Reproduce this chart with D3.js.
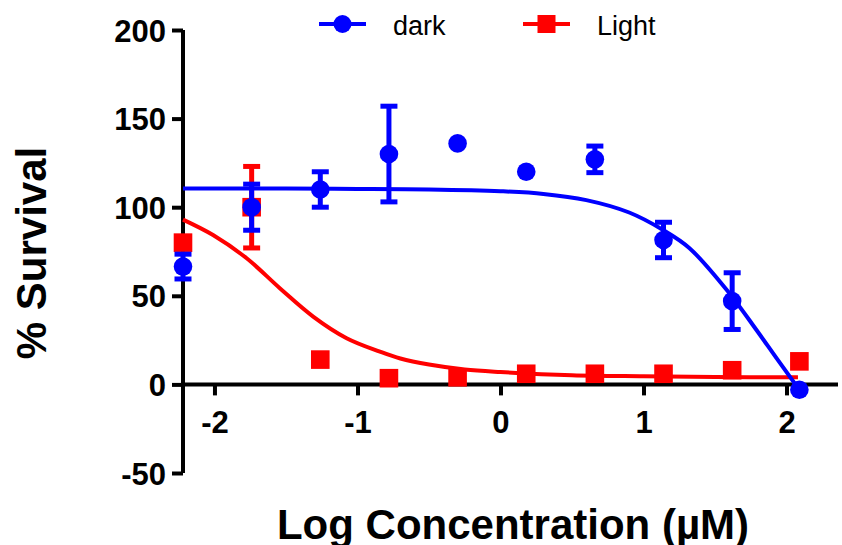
<!DOCTYPE html>
<html>
<head>
<meta charset="utf-8">
<script src="https://cdn.jsdelivr.net/npm/d3@7"></script>
<style>
  body { margin: 0; background: #fff; }
  text { font-family: "Liberation Sans", Arial, sans-serif; }
</style>
</head>
<body>
<svg class="chart"></svg>
<script>
// DATA /////////////////////////////////////////
const logConc = [-2.22, -1.74, -1.26, -0.78, -0.30, 0.18, 0.66, 1.14, 1.62, 2.09];

const darkMean = [66.5, 100, 110, 130, 136, 120, 127, 81.5, 47, -3];
const darkErr = [7, 13, 10, 27, 0, 0, 7.5, 10, 16, 0];

const lightMean = [80, 100, 14, 3.5, 4, 6, 6, 6, 8, 13];
const lightErr = [0, 23, 0, 0, 0, 0, 0, 0, 0, 0];

// fitted curves
const darkFitX = [-2.22, -1.5, -1.0, -0.5, 0, 0.3, 0.6, 0.9, 1.14, 1.32, 1.6, 1.79, 1.93, 2.08];
const darkFitY = [110.5, 110.5, 110.3, 110, 109, 107.5, 104, 97, 87, 77, 51.5, 30.7, 14.8, -2];

const lightFitX = [-2.22, -2.01, -1.775, -1.543, -1.31, -1.076, -0.843, -0.7, -0.5, -0.25, 0, 0.5, 1.0, 1.5, 2.08];
const lightFitY = [93, 84.3, 71.2, 54.3, 38.3, 26.1, 18.5, 14.6, 11.2, 8.4, 7, 5.2, 4.6, 4.2, 4];

const xTicks = [-2, -1, 0, 1, 2];
const yTicks = [-50, 0, 50, 100, 150, 200];

// DEFINITIONS //////////////////////////////////
const W = 842;
const H = 545;

const svg = d3.select(".chart").attr("width", W).attr("height", H);

const x = d3.scaleLinear().domain([-2.22, 2.36]).range([183, 838]);
const y = d3.scaleLinear().domain([-50, 200]).range([473, 30]);

const series = [
  { name: "Light", color: "#ff0000", mean: lightMean, err: lightErr, fitX: lightFitX, fitY: lightFitY, shape: "square" },
  { name: "dark", color: "#0000ff", mean: darkMean, err: darkErr, fitX: darkFitX, fitY: darkFitY, shape: "circle" },
];

// AXES /////////////////////////////////////////
const yAxis = svg
  .append("g")
  .attr("transform", `translate(${x(-2.22)},0)`)
  .call(d3.axisLeft(y).tickValues(yTicks).tickSize(11).tickPadding(6).tickSizeOuter(0));

const xAxis = svg
  .append("g")
  .attr("transform", `translate(0,${y(0)})`)
  .call(d3.axisBottom(x).tickValues(xTicks).tickSize(11).tickPadding(16).tickSizeOuter(0));

[yAxis, xAxis].forEach((g) => {
  g.select(".domain").attr("stroke", "#000").attr("stroke-width", 4);
  g.selectAll(".tick line").attr("stroke", "#000").attr("stroke-width", 4);
  g.selectAll(".tick text")
    .attr("fill", "#000")
    .style("font-size", "31px")
    .style("font-weight", "bold")
    .style("font-family", '"Liberation Sans", Arial, sans-serif');
});
// plain domain lines, no outer ticks
yAxis.select(".domain").attr("d", `M0,${y(200)}V${y(-50)}`);
xAxis.select(".domain").attr("d", `M${x(-2.22)},0H${x(2.36)}`);
xAxis.selectAll(".tick text").text((d) => (d < 0 ? "-" + Math.abs(d) : d));
yAxis.selectAll(".tick text").text((d) => (d < 0 ? "-" + Math.abs(d) : d)).attr("dy", "0.36em");

// axis titles
svg
  .append("text")
  .attr("x", 513)
  .attr("y", 539)
  .attr("text-anchor", "middle")
  .style("font-size", "42px")
  .style("font-weight", "bold")
  .text("Log Concentration (µM)");

svg
  .append("text")
  .attr("transform", `translate(46,253) rotate(-90)`)
  .attr("text-anchor", "middle")
  .style("font-size", "42px")
  .style("font-weight", "bold")
  .text("% Survival");

// SERIES ///////////////////////////////////////
const line = d3
  .line()
  .x((d) => x(d[0]))
  .y((d) => y(d[1]))
  .curve(d3.curveCatmullRom.alpha(0.5));

const capW = 17;

series.forEach((s) => {
  const g = svg.append("g").attr("class", "series");
  const pts = logConc.map((lx, i) => ({ x: lx, m: s.mean[i], e: s.err[i] }));

  g.append("path")
    .attr("d", line(s.fitX.map((fx, i) => [fx, s.fitY[i]])))
    .attr("fill", "none")
    .attr("stroke", s.color)
    .attr("stroke-width", 4);

  // error bars (only where there is one to show)
  const bars = g
    .selectAll(".err")
    .data(pts.filter((d) => d.e > 0))
    .enter()
    .append("g")
    .attr("class", "err");
  bars
    .append("line")
    .attr("x1", (d) => x(d.x))
    .attr("x2", (d) => x(d.x))
    .attr("y1", (d) => y(d.m + d.e))
    .attr("y2", (d) => y(d.m - d.e))
    .attr("stroke", s.color)
    .attr("stroke-width", 5);
  [1, -1].forEach((sign) => {
    bars
      .append("line")
      .attr("x1", (d) => x(d.x) - capW / 2)
      .attr("x2", (d) => x(d.x) + capW / 2)
      .attr("y1", (d) => y(d.m + sign * d.e))
      .attr("y2", (d) => y(d.m + sign * d.e))
      .attr("stroke", s.color)
      .attr("stroke-width", 5);
  });

  // markers
  if (s.shape === "circle") {
    g.selectAll(".pt")
      .data(pts)
      .enter()
      .append("circle")
      .attr("cx", (d) => x(d.x))
      .attr("cy", (d) => y(d.m))
      .attr("r", 9.3)
      .attr("fill", s.color);
  } else {
    g.selectAll(".pt")
      .data(pts)
      .enter()
      .append("rect")
      .attr("x", (d) => x(d.x) - 9.3)
      .attr("y", (d) => y(d.m) - 9.3)
      .attr("width", 18.6)
      .attr("height", 18.6)
      .attr("fill", s.color);
  }
});

// LEGEND ///////////////////////////////////////
const legendItems = [
  { name: "dark", color: "#0000ff", shape: "circle", x: 319 },
  { name: "Light", color: "#ff0000", shape: "square", x: 523 },
];

const legend = svg
  .selectAll(".legend")
  .data(legendItems)
  .enter()
  .append("g")
  .attr("class", "legend")
  .attr("transform", (d) => `translate(${d.x},24)`);

legend
  .append("line")
  .attr("x1", 0)
  .attr("x2", 47)
  .attr("stroke", (d) => d.color)
  .attr("stroke-width", 4);

legend
  .filter((d) => d.shape === "circle")
  .append("circle")
  .attr("cx", 23.5)
  .attr("r", 9)
  .attr("fill", (d) => d.color);

legend
  .filter((d) => d.shape === "square")
  .append("rect")
  .attr("x", 23.5 - 9)
  .attr("y", -9)
  .attr("width", 18)
  .attr("height", 18)
  .attr("fill", (d) => d.color);

legend
  .append("text")
  .attr("x", 74)
  .attr("y", 11)
  .style("font-size", "27px")
  .text((d) => d.name);
</script>
</body>
</html>
